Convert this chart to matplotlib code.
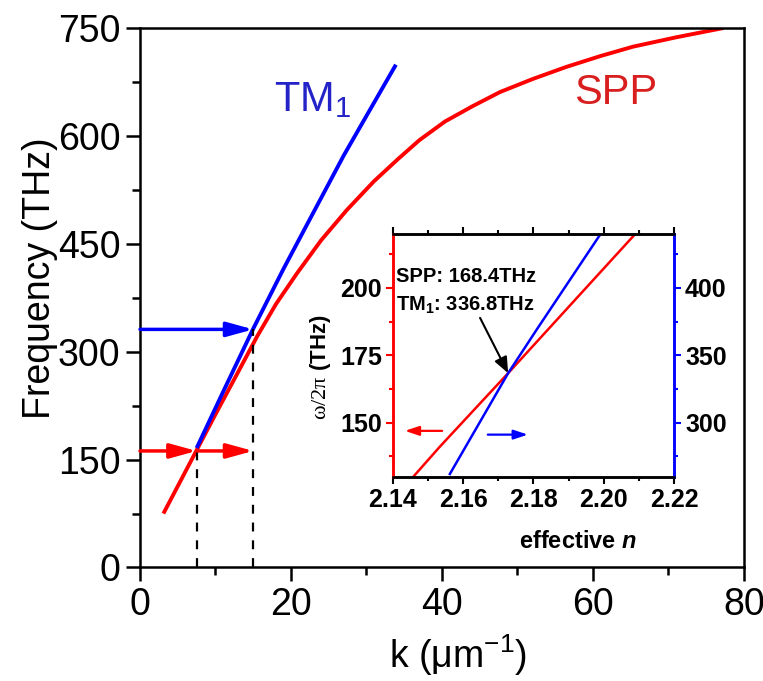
import numpy as np
import matplotlib
matplotlib.use('Agg')
import matplotlib.pyplot as plt
from matplotlib.ticker import MultipleLocator, FormatStrFormatter

plt.rcParams['font.family'] = ['Liberation Sans', 'DejaVu Sans']
plt.rcParams['mathtext.fontset'] = 'custom'
plt.rcParams['mathtext.rm'] = 'Liberation Serif'
plt.rcParams['mathtext.it'] = 'Liberation Sans:italic:bold'
plt.rcParams['mathtext.bf'] = 'Liberation Sans:bold'

# main panel: dispersion curves, frequency (THz) vs k (1/um)
k_spp = [3.1, 5.0, 7.5, 10.0, 12.5, 15.5, 18.0, 20.8, 24.0, 27.4, 31.0, 34.2,
         37.0, 40.4, 44.0, 47.7, 52.0, 56.5, 61.0, 65.3, 71.0, 77.3]
f_spp = [75, 113, 163, 213, 262, 321, 366, 409, 455, 497, 537, 568,
         594, 620, 641, 661, 679, 696, 711, 724, 737, 750]
k_tm1 = [7.5, 11.0, 15.0, 19.0, 23.4, 27.0, 30.5, 33.9]
f_tm1 = [166, 244, 332, 415, 502, 573, 637, 699]

# marked crossing points
k_mark = [7.5, 15.0]
f_mark_spp = 162
f_mark_tm1 = 331

# inset: frequency vs effective index
n_spp = [2.1458, 2.1534, 2.1728, 2.2094]
w_spp = [130, 141.2, 168.4, 220.6]
n_tm1 = [2.1562, 2.1728, 2.1809, 2.1991]
w_tm1 = [262, 336.8, 369, 440]
n_cross = 2.1728
w_cross = 168.4

RED = '#ff0000'
BLUE = '#0000ff'

fig = plt.figure(figsize=(7.63, 6.81), dpi=100)
ax = fig.add_axes([0.1835, 0.1667, 0.7915, 0.7922])

ax.plot(k_spp, f_spp, color=RED, lw=2.8, solid_capstyle='butt', solid_joinstyle='round')
ax.plot(k_tm1, f_tm1, color=BLUE, lw=2.8, solid_capstyle='butt', solid_joinstyle='round')

for kk, ff in zip(k_mark, [f_mark_spp, f_mark_tm1]):
    ax.plot([kk, kk], [0, ff], color='k', ls=(0, (4, 4)), lw=1.6)

astyle = '-|>,head_length=0.8,head_width=0.22'
ax.annotate('', xy=(k_mark[0], f_mark_spp), xytext=(0, f_mark_spp),
            arrowprops=dict(arrowstyle=astyle, color=RED, lw=2.5,
                            mutation_scale=20, shrinkA=0, shrinkB=0))
ax.annotate('', xy=(k_mark[1], f_mark_spp), xytext=(k_mark[0], f_mark_spp),
            arrowprops=dict(arrowstyle=astyle, color=RED, lw=2.5,
                            mutation_scale=20, shrinkA=0, shrinkB=0))
ax.annotate('', xy=(k_mark[1], f_mark_tm1), xytext=(0, f_mark_tm1),
            arrowprops=dict(arrowstyle=astyle, color=BLUE, lw=2.5,
                            mutation_scale=20, shrinkA=0, shrinkB=0))

ax.text(17.7, 635, r'TM$_{\mathregular{1}}$', color='#2323c8', fontsize=30)
ax.text(57.5, 645, 'SPP', color='#d81e1e', fontsize=30)

ax.set_xlim(0, 80)
ax.set_ylim(0, 750)
ax.xaxis.set_major_locator(MultipleLocator(20))
ax.xaxis.set_minor_locator(MultipleLocator(10))
ax.yaxis.set_major_locator(MultipleLocator(150))
ax.yaxis.set_minor_locator(MultipleLocator(75))
ax.tick_params(which='both', direction='out', width=1.8, labelsize=27, pad=4)
ax.tick_params(which='major', length=10)
ax.tick_params(which='minor', length=6)
for sp in ax.spines.values():
    sp.set_linewidth(1.8)
ax.set_xlabel(r'k ($\mathregular{\mu}$m$^{\mathregular{-1}}$)', fontsize=27)
ax.set_ylabel('Frequency (THz)', fontsize=27)
ax.xaxis.set_label_coords(0.527, -0.12)
ax.yaxis.set_label_coords(-0.135, 0.537)

# inset
ax2 = fig.add_axes([0.515, 0.3, 0.3683, 0.3564])
ax2r = ax2.twinx()
ax2.plot(n_spp, w_spp, color=RED, lw=1.8)
ax2r.plot(n_tm1, w_tm1, color=BLUE, lw=1.8)
ax2.set_xlim(2.14, 2.22)
ax2.set_ylim(130, 220)
ax2r.set_ylim(260, 440)

ax2.annotate('', xy=(n_cross, w_cross), xytext=(2.1648, 188.9),
             arrowprops=dict(arrowstyle='-|>,head_length=0.6,head_width=0.25',
                             color='k', lw=1.5, mutation_scale=16,
                             shrinkA=0, shrinkB=0))
ax2.annotate('', xy=(2.1434, 147), xytext=(2.154, 147),
             arrowprops=dict(arrowstyle='-|>,head_length=0.6,head_width=0.2',
                             color=RED, lw=1.6, mutation_scale=14,
                             shrinkA=0, shrinkB=0))
ax2.annotate('', xy=(2.1784, 145.6), xytext=(2.167, 145.6),
             arrowprops=dict(arrowstyle='-|>,head_length=0.6,head_width=0.2',
                             color=BLUE, lw=1.6, mutation_scale=14,
                             shrinkA=0, shrinkB=0))

ax2.text(0.012, 0.823, 'SPP: 168.4THz', transform=ax2.transAxes,
         fontsize=14.5, fontweight='bold', va='center')
ax2.text(0.012, 0.705, r'TM$_{\mathregular{1}}$: 336.8THz', transform=ax2.transAxes,
         fontsize=14.5, fontweight='bold', va='center')

ax2.xaxis.set_major_locator(MultipleLocator(0.02))
ax2.xaxis.set_minor_locator(MultipleLocator(0.01))
ax2.yaxis.set_major_locator(MultipleLocator(25))
ax2.yaxis.set_minor_locator(MultipleLocator(12.5))
ax2r.yaxis.set_major_locator(MultipleLocator(50))
ax2r.yaxis.set_minor_locator(MultipleLocator(25))
ax2.xaxis.set_major_formatter(FormatStrFormatter('%.2f'))

for a in (ax2, ax2r):
    a.tick_params(which='both', direction='out', width=1.5, labelsize=18, pad=3)
    a.tick_params(which='major', length=5)
    a.tick_params(which='minor', length=3)
    for sp in a.spines.values():
        sp.set_linewidth(1.8)
ax2.tick_params(axis='x', top=True, which='both')
ax2.tick_params(axis='y', colors=RED, labelcolor='k', which='both')
ax2r.tick_params(axis='y', colors=BLUE, labelcolor='k', which='both')
for a in (ax2, ax2r):
    a.spines['left'].set_color(RED)
    a.spines['right'].set_color(BLUE)
for lab in ax2.get_xticklabels() + ax2.get_yticklabels() + ax2r.get_yticklabels():
    lab.set_fontweight('bold')

ax2.set_xlabel(r'effective $\mathit{n}$', fontsize=17, fontweight='bold')
ax2.xaxis.set_label_coords(0.66, -0.22)
ax2.set_ylabel(r'$\mathrm{\omega/2\pi}$ (THz)', fontsize=16, fontweight='bold')
ax2.yaxis.set_label_coords(-0.215, 0.452)

fig.savefig('out.png', dpi=100)
